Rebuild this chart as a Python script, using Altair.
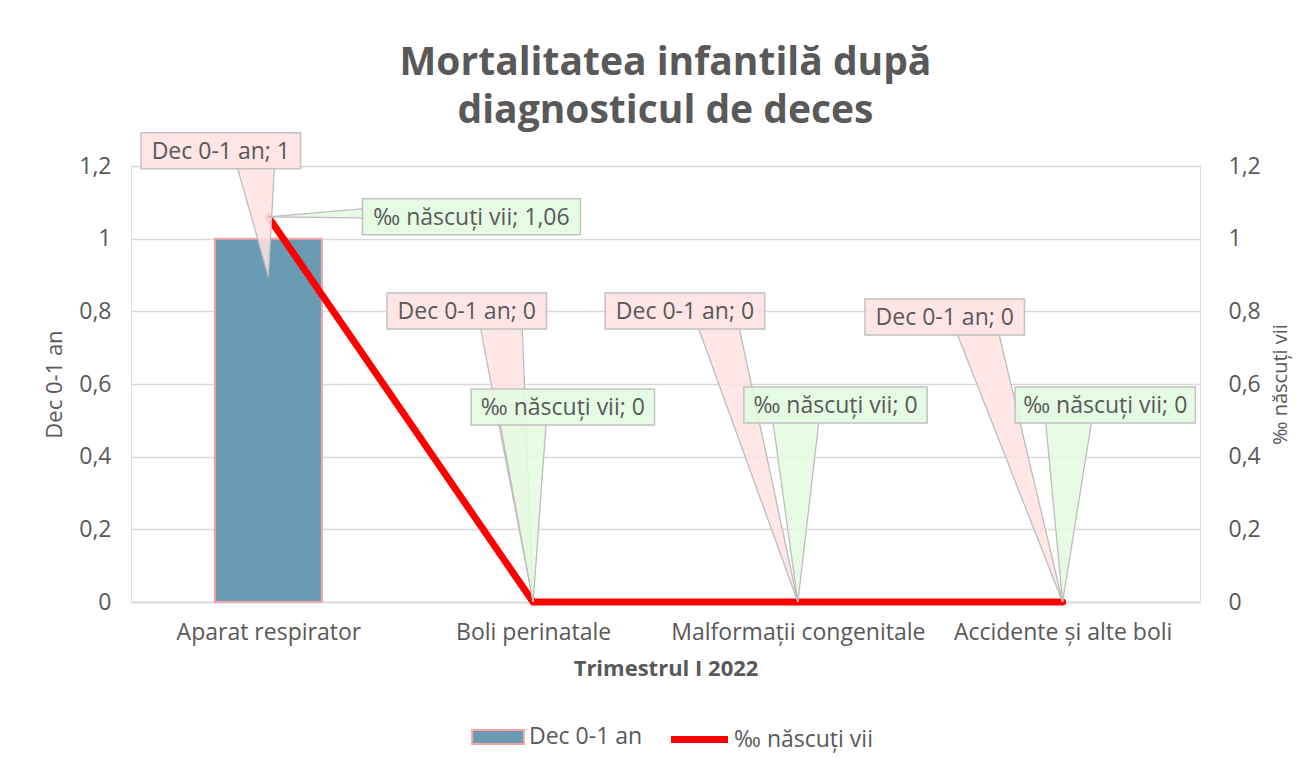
import json
import altair as alt
import pandas as pd

# ---------------- data ----------------
categories = ["Aparat respirator", "Boli perinatale", "Malformații congenitale", "Accidente și alte boli"]
dec_values = [1, 0, 0, 0]
rate_values = [1.06, 0, 0, 0]
series_names = ["Dec 0-1 an", "‰ născuți vii"]
y_ticks = [0, 0.2, 0.4, 0.6, 0.8, 1.0, 1.2]
x_title = "Trimestrul I 2022"
y_left_title = "Dec 0-1 an"
y_right_title = "‰ născuți vii"
chart_title = ["Mortalitatea infantilă după", "diagnosticul de deces"]

# ---------------- style ----------------
W, H = 1069, 436
X_DOMAIN = [-0.5, len(categories) - 0.5]
Y_DOMAIN = [0, 1.2]
PX_X = (X_DOMAIN[1] - X_DOMAIN[0]) / W   # data units per pixel
PX_Y = (Y_DOMAIN[1] - Y_DOMAIN[0]) / H

FONT = "Open Sans"
TXT = "#595959"
GRID = "#d9d9d9"
BAR = "#6b9bb2"
BAR_STROKE = "#f3a5a5"
RED = "#ff0000"
PINK = "#ffe3e3"
GREEN = "#e4fbe1"
EDGE = "#bdbdbd"
FS = 23


def fmt(v):
    return f"{v:g}".replace(".", ",")


# callout layout: pixel offsets relative to each data point
BOX_H = 36
dec_layout = [
    dict(bx=-48, by=-88, w=161, tip=38, b0=-31, b1=6),
    dict(bx=-67, by=-291, w=161, tip=0, b0=-53, b1=-11),
    dict(bx=-114, by=-291, w=161, tip=0, b0=-100, b1=-59),
    dict(bx=-119, by=-285, w=161, tip=0, b0=-106, b1=-64),
]
rate_layout = [
    dict(bx=205, by=0, w=220, tip=0, side=True, b0=-8, b1=1),
    dict(bx=30, by=-195, w=185, tip=0, b0=-33, b1=13),
    dict(bx=38, by=-197, w=185, tip=0, b0=-25, b1=21),
    dict(bx=43, by=-197, w=182, tip=0, b0=-17, b1=29),
]

bars = pd.DataFrame({"idx": list(range(len(categories))), "category": categories,
                     "value": dec_values, "series": series_names[0]})
line = pd.DataFrame({"idx": list(range(len(categories))), "category": categories,
                     "value": rate_values, "series": series_names[1]})


def callout_frames(values, layout, name):
    boxes, texts, hwedge, vwedge, edges = [], [], [], [], []
    for i, (v, L) in enumerate(zip(values, layout)):
        cx = i + L["bx"] * PX_X
        cy = v - L["by"] * PX_Y
        hw = L["w"] / 2 * PX_X
        hh = BOX_H / 2 * PX_Y
        boxes.append(dict(x=cx - hw, x2=cx + hw, y=cy - hh, y2=cy + hh))
        texts.append(dict(x=cx, y=cy, text=f"{name}; {fmt(v)}"))
        tx, ty = i, v - L["tip"] * PX_Y
        wid = f"{name}-{i}"
        if L.get("side"):
            bx = cx - hw
            y0 = v - L["b0"] * PX_Y
            y1 = v - L["b1"] * PX_Y
            vwedge += [dict(w=wid, x=tx, y=ty, y2=ty), dict(w=wid, x=bx, y=y0, y2=y1)]
            edges += [dict(x=tx, y=ty, x2=bx, y2=y0), dict(x=tx, y=ty, x2=bx, y2=y1)]
        else:
            by = cy - hh
            x0 = i + L["b0"] * PX_X
            x1 = i + L["b1"] * PX_X
            hwedge += [dict(w=wid, x=tx, x2=tx, y=ty), dict(w=wid, x=x0, x2=x1, y=by)]
            edges += [dict(x=tx, y=ty, x2=x0, y2=by), dict(x=tx, y=ty, x2=x1, y2=by)]
    return (pd.DataFrame(boxes), pd.DataFrame(texts), pd.DataFrame(hwedge),
            pd.DataFrame(vwedge), pd.DataFrame(edges))


xscale = alt.Scale(domain=X_DOMAIN, nice=False, zero=False)
yscale = alt.Scale(domain=Y_DOMAIN, nice=False, zero=False)
label_expr = "replace(toString(datum.value), '.', ',')"


def callout_layers(values, layout, name, fill):
    boxes, texts, hw, vw, edges = callout_frames(values, layout, name)
    out = []
    if len(hw):
        out.append(alt.Chart(hw).mark_area(orient="horizontal", fill=fill, opacity=0.85).encode(
            y=alt.Y("y:Q", scale=yscale, axis=None),
            x=alt.X("x:Q", scale=xscale), x2="x2:Q", detail="w:N"))
    if len(vw):
        out.append(alt.Chart(vw).mark_area(orient="vertical", fill=fill, opacity=0.85).encode(
            x=alt.X("x:Q", scale=xscale),
            y=alt.Y("y:Q", scale=yscale, axis=None), y2="y2:Q", detail="w:N"))
    out.append(alt.Chart(edges).mark_rule(color=EDGE, strokeWidth=1.3).encode(
        x=alt.X("x:Q", scale=xscale), x2="x2:Q",
        y=alt.Y("y:Q", scale=yscale, axis=None), y2="y2:Q"))
    out.append(alt.Chart(boxes).mark_rect(fill=fill, stroke=EDGE, strokeWidth=1.5, opacity=0.9).encode(
        x=alt.X("x:Q", scale=xscale), x2="x2:Q",
        y=alt.Y("y:Q", scale=yscale, axis=None), y2="y2:Q"))
    out.append(alt.Chart(texts).mark_text(font=FONT, fontSize=FS, color=TXT, baseline="middle", dy=1).encode(
        x=alt.X("x:Q", scale=xscale),
        y=alt.Y("y:Q", scale=yscale, axis=None), text="text:N"))
    return out


bar_legend = alt.Legend(
    title=None, orient="none", legendX=339, legendY=543, direction="horizontal",
    labelFont=FONT, labelFontSize=FS, labelColor=TXT, labelLimit=400,
    symbolType="M-0.96,-0.26L0.96,-0.26L0.96,0.26L-0.96,0.26Z",
    symbolSize=2900, symbolStrokeColor=BAR_STROKE, symbolStrokeWidth=2,
    labelOffset=3)
line_legend = alt.Legend(
    title=None, orient="none", legendX=535, legendY=540, direction="horizontal",
    labelFont=FONT, labelFontSize=FS, labelColor=TXT, labelLimit=400,
    symbolType="M-0.95,0L0.95,0", symbolSize=3600, symbolStrokeWidth=7,
    labelOffset=1)

bar_layer = alt.Chart(bars).mark_bar(size=107).encode(
    x=alt.X("idx:Q", scale=xscale, axis=alt.Axis(
        values=list(range(len(categories))),
        labelExpr=json.dumps(categories) + "[datum.value]", labelLimit=400,
        title=x_title, grid=False, ticks=False, domain=True, domainColor=GRID, domainWidth=1.5,
        labelFont=FONT, labelFontSize=FS, labelColor=TXT, labelPadding=19,
        titleFont=FONT, titleFontSize=22, titleFontWeight="bold", titleColor=TXT, titlePadding=14)),
    y=alt.Y("value:Q", scale=yscale, axis=alt.Axis(
        values=y_ticks, labelExpr=label_expr, title=y_left_title,
        grid=True, gridColor=GRID, gridWidth=1.5, ticks=False, domain=False,
        labelFont=FONT, labelFontSize=FS, labelColor=TXT, labelPadding=20,
        titleFont=FONT, titleFontSize=22, titleFontWeight="normal", titleColor=TXT, titlePadding=12)),
    fill=alt.Fill("series:N", scale=alt.Scale(domain=[series_names[0]], range=[BAR]), legend=bar_legend),
    stroke=alt.value(BAR_STROKE),
    strokeWidth=alt.condition("datum.value > 0", alt.value(2), alt.value(0)),
)

line_layer = alt.Chart(line).mark_line(strokeWidth=7, strokeCap="round").encode(
    x=alt.X("idx:Q", scale=xscale),
    y=alt.Y("value:Q", scale=yscale, axis=alt.Axis(
        orient="right", values=y_ticks, labelExpr=label_expr, title=y_right_title,
        grid=False, ticks=False, domain=False,
        labelFont=FONT, labelFontSize=FS, labelColor=TXT, labelPadding=28,
        titleFont=FONT, titleFontSize=20, titleFontWeight="normal", titleColor=TXT,
        titlePadding=30, titleAngle=270)),
    stroke=alt.Stroke("series:N", scale=alt.Scale(domain=[series_names[1]], range=[RED]), legend=line_legend),
)

marker_layer = alt.Chart(line).transform_filter("datum.value > 0").mark_circle(
    size=45, color="#ff6b6b", opacity=1).encode(
    x=alt.X("idx:Q", scale=xscale),
    y=alt.Y("value:Q", scale=yscale, axis=None),
)

layers = [bar_layer, line_layer, marker_layer]
layers += callout_layers(dec_values, dec_layout, series_names[0], PINK)
layers += callout_layers(rate_values, rate_layout, series_names[1], GREEN)

chart = alt.layer(*layers).resolve_scale(y="independent").properties(
    width=W, height=H,
    padding={"left": 35, "top": 35, "right": 5, "bottom": 5},
    title=alt.Title(chart_title, font=FONT, fontSize=39, fontWeight="bold", color=TXT,
                    anchor="middle", lineHeight=48, offset=1),
).configure_view(stroke=None).configure(background="white")

chart.save("out.html", embed_options={"renderer": "svg", "actions": False})
